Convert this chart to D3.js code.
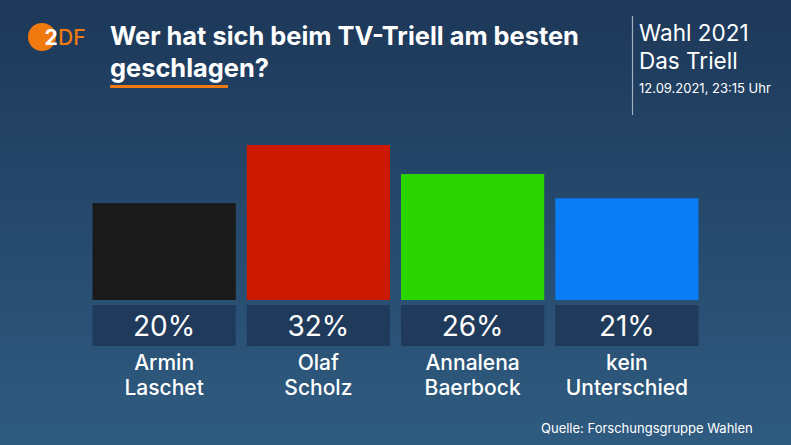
<!DOCTYPE html>
<html><head><meta charset="utf-8">
<script src="https://cdn.jsdelivr.net/npm/d3@7/dist/d3.min.js"></script>
<style>html,body{margin:0;padding:0;overflow:hidden;background:#23456a}</style>
</head><body>
<svg id="c" width="791" height="445"></svg>
<script>
const categories = [["Armin","Laschet"],["Olaf","Scholz"],["Annalena","Baerbock"],["kein","Unterschied"]];
const values = [20, 32, 26, 21];
const colors = ["#1a1a1a","#cc1a00","#2bd600","#0a7cf5"];
const valueLabels = ["20%","32%","26%","21%"];

const svg = d3.select("#c");
const W = 791, H = 445;
const font = "Inter, 'Open Sans', sans-serif";

const defs = svg.append("defs");
const g = defs.append("linearGradient").attr("id","bg").attr("x1",0).attr("y1",0).attr("x2",0).attr("y2",1);
g.append("stop").attr("offset","0%").attr("stop-color","#1d3859");
g.append("stop").attr("offset","100%").attr("stop-color","#2f5b80");
svg.append("rect").attr("width",W).attr("height",H).attr("fill","url(#bg)");

// logo
svg.append("circle").attr("cx",42).attr("cy",37).attr("r",14).attr("fill","#f07a10");
svg.append("text").attr("x",51).attr("y",45).attr("font-family",font).attr("font-weight",700)
  .attr("font-size",21).attr("fill","#fff").attr("text-anchor","middle").text("2");
svg.append("text").attr("x",58).attr("y",45).attr("font-family",font).attr("font-weight",500)
  .attr("font-size",21).attr("fill","#f07a10").text("DF");

// title
svg.append("text").attr("x",110).attr("y",45).attr("font-family",font).attr("font-weight",700)
  .attr("font-size",25.4).attr("fill","#fff").text("Wer hat sich beim TV-Triell am besten");
svg.append("text").attr("x",110).attr("y",77).attr("font-family",font).attr("font-weight",700)
  .attr("font-size",25.4).attr("fill","#fff").text("geschlagen?");
svg.append("rect").attr("x",110).attr("y",85).attr("width",118).attr("height",3).attr("fill","#f07a10");

// right header
svg.append("line").attr("x1",632.5).attr("x2",632.5).attr("y1",16).attr("y2",115).attr("stroke","#9fb0c2").attr("stroke-width",1.2);
svg.append("text").attr("x",639).attr("y",41).attr("font-family",font).attr("font-size",22.5).attr("fill","#fff").text("Wahl 2021");
svg.append("text").attr("x",639).attr("y",69).attr("font-family",font).attr("font-size",22.5).attr("fill","#fff").text("Das Triell");
svg.append("text").attr("x",639).attr("y",93).attr("font-family",font).attr("font-size",13).attr("fill","#fff").text("12.09.2021, 23:15 Uhr");

// scales
const x = d3.scaleBand().domain(d3.range(values.length)).range([87, 704]).paddingInner(0.0714).paddingOuter(0.0357);
const y = d3.scaleLinear().domain([0, 32]).range([300, 145]);

svg.selectAll("rect.bar").data(values).join("rect").attr("class","bar")
  .attr("x",(d,i)=>x(i)).attr("width",x.bandwidth())
  .attr("y",d=>y(d)).attr("height",d=>y(0)-y(d)).attr("fill",(d,i)=>colors[i]);

svg.selectAll("rect.vbox").data(values).join("rect").attr("class","vbox")
  .attr("x",(d,i)=>x(i)).attr("width",x.bandwidth()).attr("y",305).attr("height",41).attr("fill","#1f3a5a");

svg.selectAll("text.val").data(valueLabels).join("text").attr("class","val")
  .attr("x",(d,i)=>x(i)+x.bandwidth()/2).attr("y",336).attr("text-anchor","middle")
  .attr("font-family",font).attr("font-size",28).attr("fill","#fff").text(d=>d);

const lab = svg.selectAll("text.cat").data(categories).join("text").attr("class","cat")
  .attr("text-anchor","middle").attr("font-family",font).attr("font-weight",500)
  .attr("font-size",21).attr("fill","#fff");
lab.each(function(c,i){
  const t = d3.select(this);
  c.forEach((line,j)=>{
    t.append("tspan").attr("x",x(i)+x.bandwidth()/2).attr("y",370+j*25).text(line);
  });
});

svg.append("text").attr("x",541).attr("y",433).attr("font-family",font).attr("font-size",13).attr("fill","#fff").text("Quelle: Forschungsgruppe Wahlen");
</script>
</body></html>
